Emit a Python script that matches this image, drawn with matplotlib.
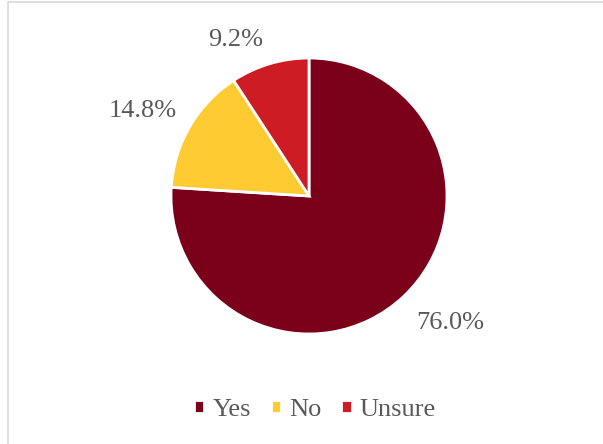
import matplotlib
matplotlib.use('Agg')
import matplotlib.pyplot as plt
import numpy as np
from matplotlib.patches import Rectangle

# chart data
labels = ['Yes', 'No', 'Unsure']
values = [76.0, 14.8, 9.2]
colors = ['#7B0019', '#FFCB33', '#CD1C24']

# label placement (angle in degrees, distance in radii) as in the reference
label_angles = [-42, 153, 115]
label_dist = [1.38, 1.35, 1.25]

plt.rcParams['font.family'] = ['Liberation Serif', 'DejaVu Serif']
text_color = '#595959'

fig = plt.figure(figsize=(6.03, 4.44), dpi=100)
fig.patch.set_facecolor('white')

# light gray chart border
fig.patches.append(Rectangle((8 / 603, -0.1), 1.2, 1.1 - 2 / 444, transform=fig.transFigure,
                             fill=False, edgecolor='#D9D9D9', linewidth=1.2))

ax = fig.add_axes([171 / 603, 110 / 444, 276 / 603, 276 / 444])
wedges, texts, autotexts = ax.pie(values, colors=colors, startangle=90, counterclock=False,
                                  autopct='%.1f%%', pctdistance=1.36,
                                  wedgeprops={'edgecolor': 'white', 'linewidth': 2})
for t, a, d in zip(autotexts, label_angles, label_dist):
    t.set_position((d * np.cos(np.radians(a)), d * np.sin(np.radians(a))))
    t.set_fontsize(19)
    t.set_color(text_color)
ax.set_xlim(-1, 1)
ax.set_ylim(-1, 1)
ax.set_aspect('equal')

leg = fig.legend(wedges, labels, loc='center', bbox_to_anchor=(315 / 603, 1 - 410 / 444),
                 ncol=3, frameon=False, fontsize=19, handlelength=0.4, handleheight=0.4,
                 handletextpad=0.3, columnspacing=0.75)
for t in leg.get_texts():
    t.set_color(text_color)

plt.savefig('out.png', dpi=100)
plt.close()
